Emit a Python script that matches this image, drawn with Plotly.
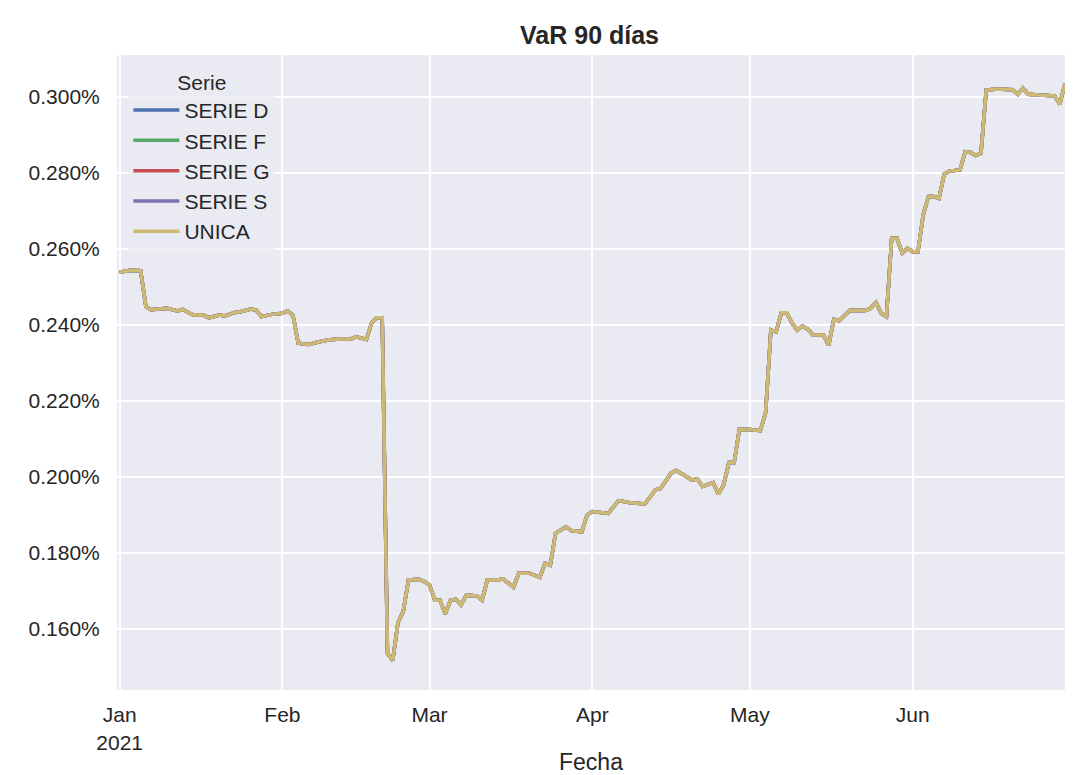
import plotly.graph_objects as go

dates = [
    "2021-01-01", "2021-01-03", "2021-01-05", "2021-01-06", "2021-01-07", "2021-01-09",
    "2021-01-10", "2021-01-12", "2021-01-13", "2021-01-15", "2021-01-17", "2021-01-18",
    "2021-01-20", "2021-01-21", "2021-01-23", "2021-01-24", "2021-01-26", "2021-01-27",
    "2021-01-28", "2021-01-30", "2021-02-01", "2021-02-02", "2021-02-03", "2021-02-04",
    "2021-02-06", "2021-02-08", "2021-02-10", "2021-02-12", "2021-02-14", "2021-02-15",
    "2021-02-17", "2021-02-18", "2021-02-19", "2021-02-20", "2021-02-21", "2021-02-22",
    "2021-02-23", "2021-02-24", "2021-02-25", "2021-02-27", "2021-02-28", "2021-03-01",
    "2021-03-02", "2021-03-03", "2021-03-04", "2021-03-05", "2021-03-06", "2021-03-07",
    "2021-03-08", "2021-03-10", "2021-03-11", "2021-03-12", "2021-03-14", "2021-03-15",
    "2021-03-17", "2021-03-18", "2021-03-20", "2021-03-22", "2021-03-23", "2021-03-24",
    "2021-03-25", "2021-03-27", "2021-03-28", "2021-03-30", "2021-03-31", "2021-04-01",
    "2021-04-03", "2021-04-04", "2021-04-06", "2021-04-08", "2021-04-11", "2021-04-13",
    "2021-04-14", "2021-04-16", "2021-04-17", "2021-04-18", "2021-04-20", "2021-04-21",
    "2021-04-22", "2021-04-24", "2021-04-25", "2021-04-26", "2021-04-27", "2021-04-28",
    "2021-04-29", "2021-05-01", "2021-05-03", "2021-05-04", "2021-05-05", "2021-05-06",
    "2021-05-07", "2021-05-08", "2021-05-09", "2021-05-10", "2021-05-11", "2021-05-12",
    "2021-05-13", "2021-05-15", "2021-05-16", "2021-05-17", "2021-05-18", "2021-05-20",
    "2021-05-21", "2021-05-23", "2021-05-24", "2021-05-25", "2021-05-26", "2021-05-27",
    "2021-05-28", "2021-05-29", "2021-05-30", "2021-05-31", "2021-06-01", "2021-06-02",
    "2021-06-03", "2021-06-04", "2021-06-05", "2021-06-06", "2021-06-07", "2021-06-08",
    "2021-06-10", "2021-06-11", "2021-06-12", "2021-06-13", "2021-06-14", "2021-06-15",
    "2021-06-17", "2021-06-20", "2021-06-21", "2021-06-22", "2021-06-23", "2021-06-25",
    "2021-06-28", "2021-06-29", "2021-06-30",
]

var_pct = [
    0.2539, 0.2544, 0.2543, 0.2448, 0.2440, 0.2444,
    0.2444, 0.2437, 0.2441, 0.2426, 0.2426, 0.2419,
    0.2426, 0.2424, 0.2433, 0.2435, 0.2442, 0.2439,
    0.2422, 0.2428, 0.2431, 0.2437, 0.2426, 0.2352,
    0.2349, 0.2356, 0.2361, 0.2363, 0.2363, 0.2369,
    0.2362, 0.2406, 0.2419, 0.2419, 0.1536, 0.1517,
    0.1617, 0.1646, 0.1729, 0.1731, 0.1725, 0.1716,
    0.1676, 0.1676, 0.1640, 0.1676, 0.1678, 0.1663,
    0.1689, 0.1687, 0.1676, 0.1729, 0.1729, 0.1732,
    0.1710, 0.1747, 0.1747, 0.1736, 0.1773, 0.1768,
    0.1852, 0.1869, 0.1859, 0.1856, 0.1900, 0.1909,
    0.1906, 0.1904, 0.1938, 0.1933, 0.1929, 0.1966,
    0.1970, 0.2010, 0.2017, 0.2008, 0.1992, 0.1995,
    0.1975, 0.1985, 0.1955, 0.1979, 0.2038, 0.2038,
    0.2125, 0.2125, 0.2122, 0.2170, 0.2387, 0.2382,
    0.2432, 0.2432, 0.2406, 0.2387, 0.2397, 0.2389,
    0.2374, 0.2374, 0.2347, 0.2415, 0.2411, 0.2438,
    0.2439, 0.2438, 0.2444, 0.2459, 0.2431, 0.2422,
    0.2628, 0.2628, 0.2589, 0.2602, 0.2593, 0.2593,
    0.2689, 0.2738, 0.2738, 0.2733, 0.2797, 0.2805,
    0.2808, 0.2856, 0.2854, 0.2846, 0.2852, 0.3018,
    0.3021, 0.3019, 0.3007, 0.3023, 0.3007, 0.3005,
    0.3003, 0.2981, 0.3035,
]

series_names = ["SERIE D", "SERIE F", "SERIE G", "SERIE S", "UNICA"]
series_colors = ["#4C72B0", "#55A868", "#C44E52", "#8172B3", "#CCB974"]
# all series share identical VaR values (they overlap completely)
series_values = {name: [v / 100 for v in var_pct] for name in series_names}

tick_dates = ["2021-01-01", "2021-02-01", "2021-03-01", "2021-04-01", "2021-05-01", "2021-06-01"]
tick_labels = ["Jan<br>2021", "Feb", "Mar", "Apr", "May", "Jun"]
y_ticks = [0.0016, 0.0018, 0.0020, 0.0022, 0.0024, 0.0026, 0.0028, 0.0030]

fig = go.Figure()
for i, (name, color) in enumerate(zip(series_names, series_colors)):
    fig.add_trace(go.Scatter(
        x=dates, y=series_values[name], mode="lines", name=name,
        legendgroup=f"g{i}",
        line=dict(color=color, width=3.5),
    ))

font_family = "Liberation Sans, Arial, sans-serif"
fig.update_layout(
    width=1071, height=767,
    margin=dict(l=109, r=14, t=47, b=85),
    paper_bgcolor="white",
    plot_bgcolor="#EAEAF2",
    font=dict(family=font_family, size=22, color="#262626"),
    title=dict(text="<b>VaR 90 días</b>", x=0.543, xanchor="center", y=0.965, yanchor="middle",
               font=dict(size=25, color="#262626")),
    showlegend=True,
    legend=dict(
        x=0.012, y=0.988, xanchor="left", yanchor="top",
        bgcolor="rgba(234,234,242,0.8)",
        title=dict(text="Serie", side="top center", font=dict(size=21)),
        font=dict(size=21),
        itemwidth=46,
        tracegroupgap=0,
    ),
    xaxis=dict(
        type="date",
        automargin=False,
        range=["2020-12-31 12:00", "2021-06-30"],
        tickvals=tick_dates, ticktext=tick_labels,
        showgrid=True, gridcolor="white", gridwidth=2,
        zeroline=False, showline=False,
        ticks="outside", ticklen=6, tickcolor="rgba(0,0,0,0)",
        tickfont=dict(size=21),
        title=dict(text="Fecha", font=dict(size=23), standoff=9),
    ),
    yaxis=dict(
        automargin=False,
        range=[0.0014395, 0.0031105],
        tickvals=y_ticks, tickformat=".3%",
        showgrid=True, gridcolor="white", gridwidth=2,
        zeroline=False, showline=False,
        ticks="outside", ticklen=12, tickcolor="rgba(0,0,0,0)",
        tickfont=dict(size=21),
    ),
)

fig.write_html("out.html")
